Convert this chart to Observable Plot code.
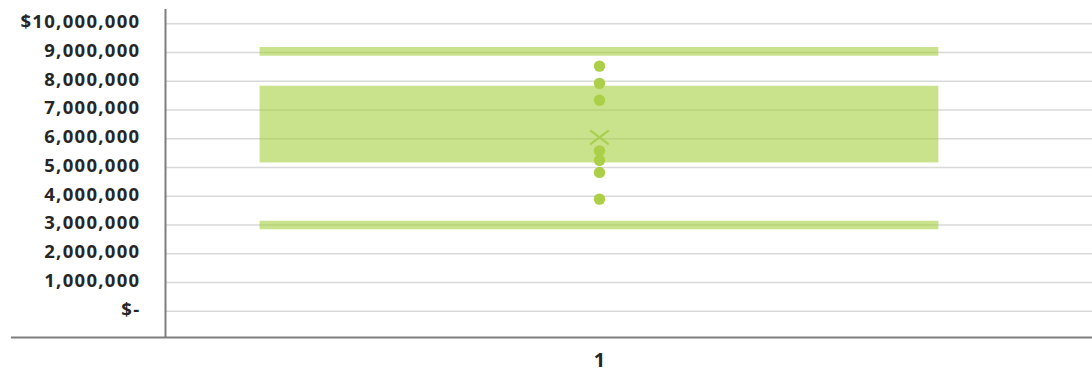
<!DOCTYPE html>
<html>
<head>
<meta charset="utf-8">
<script src="https://cdn.jsdelivr.net/npm/d3@7"></script>
<script src="https://cdn.jsdelivr.net/npm/@observablehq/plot@0.6"></script>
<style>
  html, body { margin: 0; padding: 0; background: #fff; }
  #chart svg { display: block; }
</style>
</head>
<body>
<div id="chart"></div>
<script>
// Single box-and-whisker series for category "1"
const categories = ["1"];
const whiskers = [3.0e6, 9.04e6];          // lower / upper whisker
const quartiles = [5.16e6, 7.83e6];        // Q1 / Q3 (box)
const means = [6.05e6];                    // mean marker (×)
const innerPoints = [3.9e6, 4.83e6, 5.25e6, 5.58e6, 7.34e6, 7.93e6, 8.53e6];

// Value axis ticks and their labels
const yTicks = [0, 1e6, 2e6, 3e6, 4e6, 5e6, 6e6, 7e6, 8e6, 9e6, 10e6];
const yTickLabels = ["$-", "1,000,000", "2,000,000", "3,000,000", "4,000,000", "5,000,000",
  "6,000,000", "7,000,000", "8,000,000", "9,000,000", "$10,000,000"];

const W = 1092, H = 375;
const yDomain = [-0.915e6, 10.5e6];
const xDomain = [0, 2.136];       // category sits at x = 1
const boxHalf = 0.782;            // half width of the box in x units
const green = "#a5cf3f";
const dotGreen = "#abd047";
const font = "'Open Sans', sans-serif";

// a wide "×" for the mean marker
const wideTimes = {
  draw(context, size) {
    const w = Math.sqrt(size / Math.PI), h = w * 0.75;
    context.moveTo(-w, -h); context.lineTo(w, h);
    context.moveTo(w, -h); context.lineTo(-w, h);
  }
};

const boxes = [{x: 1, q1: quartiles[0], q3: quartiles[1]}];

const chart = Plot.plot({
  width: W,
  height: H,
  marginLeft: 11,
  marginRight: 0,
  marginTop: 9,
  marginBottom: 38,
  style: {fontFamily: font, background: "#fff"},
  x: {domain: xDomain, range: [165, W], axis: null},
  y: {domain: yDomain, axis: null},
  marks: [
    // horizontal gridlines
    Plot.ruleY(yTicks, {x1: xDomain[0], x2: xDomain[1], stroke: "#d9d9d9", strokeWidth: 1.5}),
    // box Q1–Q3
    Plot.rect(boxes, {x1: d => d.x - boxHalf, x2: d => d.x + boxHalf, y1: "q1", y2: "q3",
      fill: green, fillOpacity: 0.6}),
    // whisker caps
    Plot.ruleY(whiskers, {x1: 1 - boxHalf, x2: 1 + boxHalf, stroke: green, strokeOpacity: 0.6, strokeWidth: 8.7}),
    // inner points
    Plot.dot(innerPoints, {x: 1, y: d => d, r: 5.7, fill: dotGreen}),
    // mean marker
    Plot.dot(means, {x: 1, y: d => d, symbol: wideTimes, r: 9.3, stroke: "#a9cf50", strokeWidth: 2.2}),
    // value axis line and category axis line
    Plot.ruleX([xDomain[0]], {stroke: "#7f7f7f", strokeWidth: 2}),
    Plot.ruleY([yDomain[0]], {stroke: "#7f7f7f", strokeWidth: 2}),
    // value axis labels
    Plot.text(yTicks, {x: xDomain[0], y: d => d, text: (d, i) => yTickLabels[i],
      dx: -25, dy: -1.5, textAnchor: "end", fontSize: 18.5, fontWeight: 700, fill: "#262626"}),
    // category label
    Plot.text(categories, {x: 1, frameAnchor: "bottom", text: d => d, dy: 29,
      fontSize: 20, fontWeight: 700, fill: "#262626"})
  ]
});

// letter spacing on the value axis labels
chart.querySelectorAll("text").forEach(t => {
  if (t.textContent.includes(",") || t.textContent.startsWith("$")) t.setAttribute("letter-spacing", "1.3");
});

document.getElementById("chart").append(chart);
</script>
</body>
</html>
